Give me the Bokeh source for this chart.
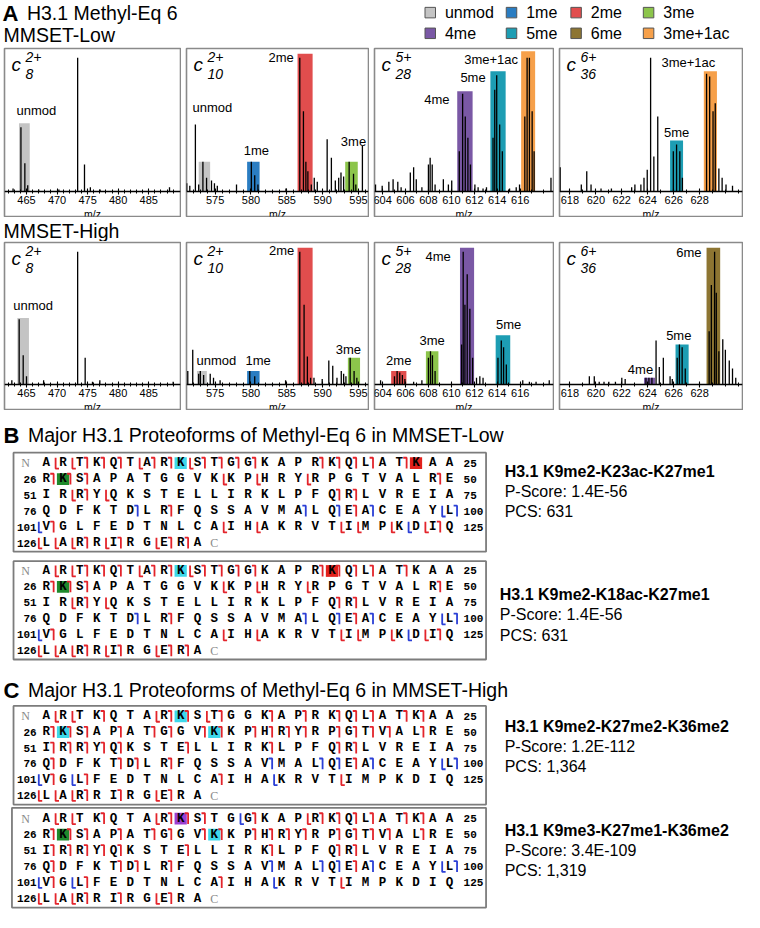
from bokeh.plotting import figure
from bokeh.models import Range1d, LinearAxis, FixedTicker, Label
from bokeh.layouts import column, row
from bokeh.embed import file_html
from bokeh.resources import INLINE
from bokeh.core.properties import value

SANS = "Liberation Sans"
MONO = "Liberation Mono"
SERIF = "Liberation Serif"

# ---------------- legend / modification colours ----------------
LEGEND_ORDER = ["unmod", "1me", "2me", "3me", "4me", "5me", "6me", "3me+1ac"]
MOD_COLORS = {"unmod": "#c4c4c4", "1me": "#2a7dc2", "2me": "#e14d4d", "3me": "#8cc54b",
              "4me": "#7a58a5", "5me": "#1d9db3", "6me": "#8d7532", "3me+1ac": "#f6a04a"}

# ---------------- spectra: axes ----------------
PANEL_IONS = [("2+", "8"), ("2+", "10"), ("5+", "28"), ("6+", "36")]
PANEL_XRANGE = [(461.4, 490.2), (571.0, 596.4), (603.3, 618.9), (617.2, 631.3)]
PANEL_MAJOR = [[465, 470, 475, 480, 485], [575, 580, 585, 590, 595],
               [604, 606, 608, 610, 612, 614, 616], [618, 620, 622, 624, 626, 628]]
PANEL_MINOR = [list(range(462, 490)), list(range(572, 597)), list(range(604, 619)), list(range(618, 632))]

# ---------------- spectra: MMSET-Low (m/z, relative intensity) ----------------
LOW_C8_PEAKS = [(462.8, 0.02), (464.09, 0.48), (464.73, 0.21), (465.2, 0.045), (467.0, 0.012),
                (470.3, 0.012), (473.37, 1.0), (474.49, 0.2), (475.45, 0.03), (477.05, 0.012), (488.4, 0.03)]
LOW_C8_BOXES = [("unmod", 463.77, 465.53, 0.51)]

LOW_C10_PEAKS = [(571.04, 0.06), (571.46, 0.04), (572.24, 0.5), (572.7, 0.05), (573.29, 0.22), (573.8, 0.1),
                 (574.49, 0.08), (574.9, 0.06), (575.3, 0.04), (577.98, 0.05), (580.05, 0.22), (580.52, 0.12),
                 (580.97, 0.05), (584.88, 0.02), (586.81, 1.0), (587.32, 0.6), (587.66, 0.22), (587.94, 0.15),
                 (588.42, 0.05), (588.83, 0.1), (589.25, 0.07), (590.63, 0.39), (591.22, 0.25), (591.77, 0.08),
                 (592.24, 0.1), (592.56, 0.14), (592.93, 0.11), (593.7, 0.22), (594.31, 0.13), (594.63, 0.05),
                 (595.55, 0.34)]
LOW_C10_BOXES = [("unmod", 572.7, 574.3, 0.22), ("1me", 579.46, 581.2, 0.22),
                 ("2me", 586.5, 588.6, 1.03), ("3me", 593.15, 594.9, 0.22)]

LOW_C28_PEAKS = [(603.39, 0.05), (603.97, 0.04), (604.55, 0.07), (604.92, 0.09), (605.33, 0.07), (605.62, 0.03),
                 (606.42, 0.14), (606.71, 0.18), (606.94, 0.09), (607.43, 0.03), (608.0, 0.2), (608.15, 0.25),
                 (608.33, 0.2), (608.58, 0.05), (609.3, 0.09), (609.74, 0.05), (610.03, 0.08), (610.69, 0.3),
                 (610.98, 0.73), (611.21, 0.56), (611.44, 0.4), (611.66, 0.2), (612.05, 0.05), (612.33, 0.03),
                 (612.76, 0.02), (613.06, 0.03), (613.63, 0.4), (613.78, 0.76), (613.95, 0.87), (614.21, 0.5),
                 (614.44, 0.3), (615.07, 0.02), (615.65, 0.03), (615.94, 0.05), (616.4, 0.56), (616.6, 1.0),
                 (616.8, 1.0), (617.04, 0.6), (617.21, 0.3), (618.68, 0.1)]
LOW_C28_BOXES = [("4me", 610.51, 611.85, 0.75), ("5me", 613.4, 614.73, 0.9), ("3me+1ac", 616.08, 617.3, 1.05)]

LOW_C36_PEAKS = [(617.25, 0.18), (618.88, 0.05), (619.3, 0.15), (619.63, 0.05), (620.4, 0.02), (621.2, 0.02),
                 (622.76, 0.03), (623.01, 0.05), (623.47, 0.05), (623.71, 0.1), (623.96, 0.16), (624.22, 1.0),
                 (624.47, 0.26), (624.77, 0.56), (625.97, 0.3), (626.22, 0.35), (626.47, 0.3), (626.67, 0.1),
                 (628.53, 0.88), (628.77, 0.86), (629.03, 0.6), (629.2, 0.66), (629.48, 0.17), (629.73, 0.1),
                 (630.03, 0.05), (630.53, 0.04)]
LOW_C36_BOXES = [("5me", 625.72, 626.72, 0.38), ("3me+1ac", 628.32, 629.33, 0.9)]

# ---------------- spectra: MMSET-High ----------------
HIGH_C8_PEAKS = [(462.6, 0.03), (463.8, 0.49), (464.46, 0.22), (465.0, 0.06), (467.8, 0.03), (473.37, 1.0),
                 (474.6, 0.2), (475.8, 0.02), (477.0, 0.03), (489.0, 0.02)]
HIGH_C8_BOXES = [("unmod", 463.5, 465.4, 0.5)]

HIGH_C10_PEAKS = [(571.18, 0.1), (571.87, 0.26), (572.7, 0.08), (572.93, 0.1), (573.39, 0.07), (574.31, 0.08),
                  (574.77, 0.05), (575.69, 0.03), (579.83, 0.1), (580.52, 0.06), (584.83, 0.03), (586.81, 1.0),
                  (587.41, 0.6), (587.87, 0.21), (588.32, 0.05), (588.79, 0.05), (589.94, 0.04), (590.86, 0.18),
                  (591.41, 0.14), (592.0, 0.05), (592.6, 0.1), (592.93, 0.08), (593.25, 0.06), (593.84, 0.2),
                  (594.39, 0.1), (594.77, 0.05)]
HIGH_C10_BOXES = [("unmod", 572.46, 573.84, 0.1), ("1me", 579.46, 581.2, 0.1),
                  ("2me", 586.5, 588.6, 1.03), ("3me", 593.52, 595.22, 0.2)]

HIGH_C28_PEAKS = [(603.83, 0.03), (605.04, 0.06), (605.27, 0.1), (605.5, 0.09), (605.73, 0.07), (605.95, 0.04),
                  (606.71, 0.02), (607.43, 0.03), (608.0, 0.2), (608.18, 0.25), (608.35, 0.22), (608.58, 0.1),
                  (610.89, 0.3), (611.03, 1.0), (611.18, 0.6), (611.38, 0.83), (611.61, 0.57), (611.85, 0.2),
                  (612.19, 0.05), (612.48, 0.06), (612.76, 0.05), (614.06, 0.2), (614.35, 0.33), (614.55, 0.28),
                  (614.79, 0.15), (616.22, 0.03), (616.8, 0.02), (617.38, 0.02), (618.53, 0.03)]
HIGH_C28_BOXES = [("2me", 604.75, 606.08, 0.1), ("3me", 607.78, 608.87, 0.25),
                  ("4me", 610.75, 611.98, 1.03), ("5me", 613.86, 615.13, 0.37)]

HIGH_C36_PEAKS = [(619.5, 0.06), (619.88, 0.06), (620.26, 0.02), (620.63, 0.02), (621.0, 0.02), (621.51, 0.02),
                  (622.0, 0.05), (622.26, 0.04), (623.86, 0.05), (624.09, 0.05), (624.32, 0.05), (624.64, 0.33),
                  (624.89, 0.13), (625.2, 0.2), (625.72, 0.06), (625.89, 0.04), (626.27, 0.2), (626.44, 0.3),
                  (626.65, 0.28), (626.89, 0.12), (628.73, 0.4), (628.9, 0.75), (629.15, 1.0), (629.28, 0.69),
                  (629.48, 0.25), (629.78, 0.34), (629.98, 0.26), (630.28, 0.18), (630.53, 0.12), (630.78, 0.05)]
HIGH_C36_BOXES = [("4me", 623.71, 624.56, 0.05), ("5me", 626.14, 627.15, 0.3), ("6me", 628.53, 629.58, 1.03)]

# label offsets (screen px, relative to box centre / top) - styling only
LOW_OFFSETS = [[(12, -13)], [(8, -54), (3, -11), (-24, 4), (2, -20)],
               [(-28, 8), (-25, 6), (-37, 8)], [(0, -8), (-22, -9)]]
HIGH_OFFSETS = [[(10, -12.5)], [(14.5, -11), (4.7, -11), (-23.5, 2.5), (-5.5, -8)],
                [(0, -11), (0, -11), (-29, 8.5), (5.7, -11)], [(-9, -8.6), (-3.3, -9), (-24.5, 4.5)]]

# ---------------- sequences ----------------
SEQUENCE = ("ARTKQTARKSTGGKAPRKQLATKAA" "RKSAPATGGVKKPHRYRPGTVALRE" "IRRYQKSTELLIRKLPFQRLVREIA"
            "QDFKTDLRFQSSAVMALQEACEAYL" "VGLFEDTNLCAIHAKRVTIMPKDIQ" "LARRIRGERA")
PTM_COLORS = {"me1": "#1f8a2c", "me2": "#3dd8ea", "me3": "#9b3fd1", "ac": "#e2211c"}

B1_PTMS = {9: "me2", 23: "ac", 27: "me1"}
B2_PTMS = {9: "me2", 18: "ac", 27: "me1"}
C1_PTMS = {9: "me2", 27: "me2", 36: "me2"}
C2_PTMS = {9: "me3", 27: "me1", 36: "me2"}

B_C_RED = [3, 4, 5, 7, 8, 10, 11, 12, 13, 17, 18, 19, 20, 22, 26, 27, 28, 49, 53, 68, 69, 83, 94, 101, 124,
           128, 130, 133, 134]
B_Z_RED = [2, 3, 7, 10, 37, 39, 42, 53, 55, 112, 114, 119, 120, 122, 124, 126, 127, 128, 130, 133]
B_C_BLUE = [81, 91, 93, 95, 100]
B_Z_BLUE = [100, 101, 123]

C1_C_RED = [4, 8, 9, 11, 14, 16, 18, 19, 20, 22, 23, 26, 27, 28, 30, 32, 33, 35, 36, 38, 39, 40, 41, 43, 44,
            45, 46, 48, 51, 52, 53, 54, 55, 59, 64, 68, 69, 76, 80, 81, 83, 94, 101, 103, 111, 128, 130, 133]
C1_Z_RED = [2, 3, 8, 11, 119, 126, 127, 128, 133]
C2_C_RED = [4, 8, 9, 10, 13, 17, 18, 19, 20, 22, 23, 26, 27, 28, 30, 32, 33, 35, 36, 38, 39, 40, 41, 43, 44,
            45, 46, 48, 51, 52, 53, 54, 55, 59, 64, 68, 69, 76, 80, 81, 83, 94, 101, 103, 111, 128, 130, 133]
C2_Z_RED = [2, 3, 8, 17, 119, 126, 127, 128, 133]
C_C_BLUE = [89, 92, 93, 95, 100]
C1_Z_BLUE = [100, 101, 103, 115]
C2_Z_BLUE = [13, 100, 101, 103, 115]

PROTEOFORMS = [
    ("H3.1 K9me2-K23ac-K27me1", "P-Score: 1.4E-56", "PCS: 631"),
    ("H3.1 K9me2-K18ac-K27me1", "P-Score: 1.4E-56", "PCS: 631"),
    ("H3.1 K9me2-K27me2-K36me2", "P-Score: 1.2E-112", "PCS: 1,364"),
    ("H3.1 K9me3-K27me1-K36me2", "P-Score: 3.4E-109", "PCS: 1,319"),
]

# ======================================================================
SPEC_W = [178, 184, 181, 185]
Y_LO, Y_HI = -0.19, 1.07


def spectrum(w, h, idx, peaks, boxes, offsets):
    lo, hi = PANEL_XRANGE[idx]
    p = figure(width=w, height=h, x_range=Range1d(lo, hi), y_range=Range1d(Y_LO, Y_HI),
               output_backend="svg", toolbar_location=None,
               x_axis_location=None, y_axis_location=None, min_border=1)
    p.xgrid.visible = False
    p.ygrid.visible = False
    p.outline_line_color = "#8a8a8a"
    p.outline_line_width = 1.6
    p.background_fill_color = "white"
    p.border_fill_color = "white"
    p.quad(left=[b[1] for b in boxes], right=[b[2] for b in boxes], bottom=0,
           top=[b[3] for b in boxes], fill_color=[MOD_COLORS[b[0]] for b in boxes], line_color=None)
    mz = [pk[0] for pk in peaks]
    it = [pk[1] for pk in peaks]
    p.segment(x0=mz, y0=0, x1=mz, y1=it, line_color="black", line_width=1.3)
    ax = LinearAxis(fixed_location=0,
                    ticker=FixedTicker(ticks=PANEL_MAJOR[idx], minor_ticks=PANEL_MINOR[idx]),
                    axis_label="m/z")
    ax.axis_line_width = 1.5
    ax.axis_line_color = "black"
    ax.major_tick_line_color = "black"
    ax.minor_tick_line_color = "black"
    ax.major_tick_in = 3
    ax.major_tick_out = 3
    ax.minor_tick_in = 2
    ax.minor_tick_out = 2
    ax.major_tick_line_width = 1.1
    ax.minor_tick_line_width = 1.0
    ax.major_label_standoff = 2
    ax.major_label_text_font = SANS
    ax.major_label_text_font_size = "11px"
    ax.major_label_text_color = "black"
    ax.axis_label_text_font = SANS
    ax.axis_label_text_font_size = "10.5px"
    ax.axis_label_text_font_style = "normal"
    ax.axis_label_text_color = "black"
    ax.axis_label_standoff = 0
    p.add_layout(ax, "below")
    p.text(x=[(b[1] + b[2]) / 2 for b in boxes], y=[b[3] for b in boxes], text=[b[0] for b in boxes],
           x_offset=[o[0] for o in offsets], y_offset=[o[1] for o in offsets],
           text_align="center", text_baseline="middle", text_font=value(SANS),
           text_font_size="13px", text_color="black")
    sup, sub = PANEL_IONS[idx]
    for tx, ty, t, fs in ((7, h - 18, "c", "19px"), (21, h - 10.5, sup, "14px"), (21, h - 27, sub, "14px")):
        p.add_layout(Label(x=tx, y=ty, x_units="screen", y_units="screen", text=t, text_font=SANS,
                           text_font_style="italic", text_font_size=fs, text_baseline="middle",
                           text_color="black"))
    return p


def blank(w, h, yr):
    p = figure(width=w, height=h, x_range=Range1d(0, 760), y_range=Range1d(*yr),
               output_backend="svg", toolbar_location=None,
               x_axis_location=None, y_axis_location=None, min_border=0)
    p.xgrid.visible = False
    p.ygrid.visible = False
    p.outline_line_color = None
    p.background_fill_color = "white"
    p.border_fill_color = "white"
    return p


# ---------------- header ----------------
hdr = blank(744, 47, (47.7, 0))
hdr.text(x=[2], y=[13], text=["A"], text_font=value(SANS), text_font_style="bold", text_font_size="22px",
         text_baseline="middle")
hdr.text(x=[27, 3], y=[13, 35], text=["H3.1 Methyl-Eq 6", "MMSET-Low"], text_font=value(SANS),
         text_font_size="19.5px", text_baseline="middle")
LEG_COLX = [439, 522, 588, 662]
LEG_ROWY = [12.3, 33.3]
lx = [LEG_COLX[i % 4] for i in range(8)]
ly = [LEG_ROWY[i // 4] for i in range(8)]
hdr.scatter(x=lx, y=ly, marker="square", size=10.5, fill_color=[MOD_COLORS[m] for m in LEGEND_ORDER],
            line_color="#555555", line_width=1)
hdr.text(x=[v + 15 for v in lx], y=ly, text=LEGEND_ORDER, text_font=value(SANS), text_font_size="16px",
         text_baseline="middle")

# ---------------- spectra rows ----------------
LOW = [(LOW_C8_PEAKS, LOW_C8_BOXES), (LOW_C10_PEAKS, LOW_C10_BOXES),
       (LOW_C28_PEAKS, LOW_C28_BOXES), (LOW_C36_PEAKS, LOW_C36_BOXES)]
HIGH = [(HIGH_C8_PEAKS, HIGH_C8_BOXES), (HIGH_C10_PEAKS, HIGH_C10_BOXES),
        (HIGH_C28_PEAKS, HIGH_C28_BOXES), (HIGH_C36_PEAKS, HIGH_C36_BOXES)]
low_figs = [spectrum(SPEC_W[i], 170, i, LOW[i][0], LOW[i][1], LOW_OFFSETS[i]) for i in range(4)]
high_figs = [spectrum(SPEC_W[i], 169, i, HIGH[i][0], HIGH[i][1], HIGH_OFFSETS[i]) for i in range(4)]
r1 = row(low_figs, spacing=4, margin=(0, 0, 0, 3))
r2 = row(high_figs, spacing=4, margin=(0, 0, 0, 3))

mid = blank(744, 24, (245.7, 221))
mid.text(x=[3], y=[235], text=["MMSET-High"], text_font=value(SANS), text_font_size="19.5px",
         text_baseline="middle")

# ---------------- sequence section ----------------
low = blank(744, 500, (928, 418))
STEP = 17.17
X0 = 46.7


def res_pos(n, row0, rstep):
    return X0 + ((n - 1) % 25) * STEP, row0 + ((n - 1) // 25) * rstep


def seq_box(p, top, bottom, left, row0, rstep, ptms, c_red, z_red, c_blue, z_blue):
    p.quad(left=[left], right=[496], top=[top], bottom=[bottom], fill_color=None,
           line_color="#7c7c7c", line_width=1.8)
    hx = [res_pos(n, row0, rstep)[0] for n in ptms]
    hy = [res_pos(n, row0, rstep)[1] for n in ptms]
    p.rect(x=hx, y=hy, width=12.5, height=12, fill_color=[PTM_COLORS[v] for v in ptms.values()],
           line_color=None)
    xs = [res_pos(n, row0, rstep)[0] for n in range(1, len(SEQUENCE) + 1)]
    ys = [res_pos(n, row0, rstep)[1] for n in range(1, len(SEQUENCE) + 1)]
    p.text(x=xs, y=ys, text=list(SEQUENCE), text_font=value(MONO), text_font_style="bold",
           text_font_size="12.5px", text_align="center", text_baseline="middle", text_color="black")
    nrows = (len(SEQUENCE) + 24) // 25
    p.text(x=[37] * (nrows - 1), y=[row0 + k * rstep for k in range(1, nrows)],
           text=[str(25 * k + 1) for k in range(1, nrows)], text_font=value(MONO), text_font_style="bold",
           text_font_size="11px", text_align="right", text_baseline="middle", text_color="black")
    p.text(x=[473] * (nrows - 1), y=[row0 + k * rstep for k in range(0, nrows - 1)],
           text=[str(25 * (k + 1)) for k in range(0, nrows - 1)], text_font=value(MONO),
           text_font_style="bold", text_font_size="11px", text_align="left", text_baseline="middle",
           text_color="black")
    cx, cy = res_pos(len(SEQUENCE) + 1, row0, rstep)
    p.text(x=[X0 - 21, cx], y=[row0, cy], text=["N", "C"], text_font=value(SERIF), text_font_size="12px",
           text_align="center", text_baseline="middle", text_color="#8a8a8a")
    for clist, zlist, col in ((c_red, z_red, "#e3242b"), (c_blue, z_blue, "#2b3fd6")):
        mxs, mys = [], []
        for n in clist:
            x, y = res_pos(n, row0, rstep)
            xm = x + STEP / 2 - 1.0
            mxs.append([xm - 3.5, xm, xm])
            mys.append([y - 5.5, y - 5.5, y + 5.5])
        for n in zlist:
            x, y = res_pos(n, row0, rstep)
            xm = x - STEP / 2 + 1.0
            mxs.append([xm, xm, xm + 3.5])
            mys.append([y - 5.5, y + 5.5, y + 5.5])
        p.multi_line(xs=mxs, ys=mys, line_color=col, line_width=1.8)


def info(p, x, y0, lines):
    p.text(x=[x], y=[y0], text=[lines[0]], text_font=value(SANS), text_font_style="bold",
           text_font_size="16px", text_baseline="middle", text_color="black")
    p.text(x=[x, x], y=[y0 + 20.5, y0 + 41.5], text=[lines[1], lines[2]], text_font=value(SANS),
           text_font_size="16px", text_baseline="middle", text_color="black")


for ty, letter, txt in ((443.3, "B", "Major H3.1 Proteoforms of Methyl-Eq 6 in MMSET-Low"),
                        (703.3, "C", "Major H3.1 Proteoforms of Methyl-Eq 6 in MMSET-High")):
    low.text(x=[3], y=[ty], text=[letter], text_font=value(SANS), text_font_style="bold",
             text_font_size="22px", text_baseline="middle")
    low.text(x=[28], y=[ty], text=[txt], text_font=value(SANS), text_font_size="19.5px",
             text_baseline="middle")

seq_box(low, 461, 562, 13.3, 471.7, 16.3, B1_PTMS, B_C_RED, B_Z_RED, B_C_BLUE, B_Z_BLUE)
seq_box(low, 571.7, 672, 13.3, 581.7, 16.3, B2_PTMS, B_C_RED, B_Z_RED, B_C_BLUE, B_Z_BLUE)
seq_box(low, 719.3, 820, 13.3, 730, 16.15, C1_PTMS, C1_C_RED, C1_Z_RED, C_C_BLUE, C1_Z_BLUE)
seq_box(low, 823.3, 925, 11.7, 834.3, 16.3, C2_PTMS, C2_C_RED, C2_Z_RED, C_C_BLUE, C2_Z_BLUE)

info(low, 515, 480, PROTEOFORMS[0])
info(low, 510, 606, PROTEOFORMS[1])
info(low, 515, 740, PROTEOFORMS[2])
info(low, 515, 846, PROTEOFORMS[3])

page = column(hdr, r1, mid, r2, low, spacing=0)
open("out.html", "w").write(file_html(page, INLINE, title="H3.1 Methyl-Eq 6"))
